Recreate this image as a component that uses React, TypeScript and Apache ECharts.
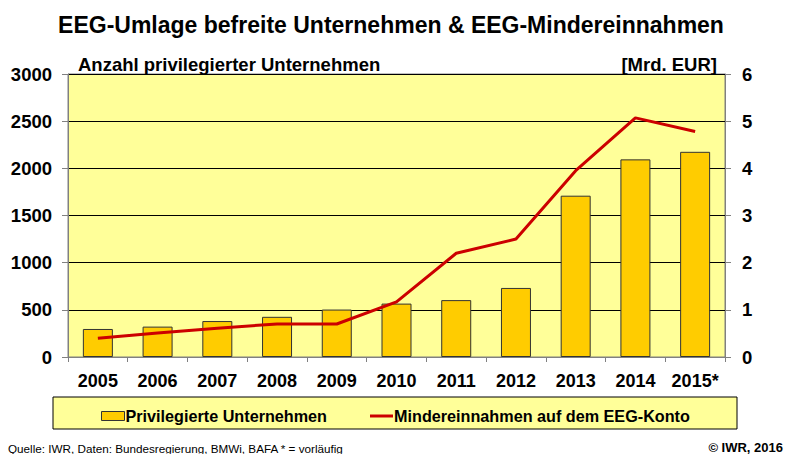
import React, { useEffect, useRef } from "react";
import * as echarts from "echarts";

const years = ["2005", "2006", "2007", "2008", "2009", "2010", "2011", "2012", "2013", "2014", "2015*"];
const companies = [297, 322, 381, 426, 503, 566, 603, 732, 1710, 2095, 2175];
const revenueLoss = [0.4, 0.51, 0.61, 0.7, 0.7, 1.17, 2.2, 2.5, 3.95, 5.07, 4.78];
const FONT = "Liberation Sans, Arial, sans-serif";

export default function App() {
  const ref = useRef<HTMLDivElement>(null);
  useEffect(() => {
    const chart = echarts.init(ref.current!, null, { renderer: "svg" });
    chart.setOption({
      animation: false,
      backgroundColor: "#ffffff",
      title: {
        text: "EEG-Umlage befreite Unternehmen & EEG-Mindereinnahmen",
        left: 386,
        textAlign: "center",
        top: 8,
        textStyle: { fontFamily: FONT, fontSize: 23, fontWeight: "bold", color: "#000" },
      },
      grid: {
        left: 68,
        right: 63,
        top: 74,
        bottom: 97,
        show: true,
        backgroundColor: "#FFFF99",
        borderColor: "#808080",
        borderWidth: 1,
      },
      legend: {
        left: 96,
        top: 403,
        itemGap: 43,
        itemWidth: 23,
        itemHeight: 9,
        textStyle: { fontFamily: FONT, fontSize: 16.2, fontWeight: "bold", color: "#000", padding: [0, 0, 0, -4] },
        data: [
          {
            name: "Privilegierte Unternehmen",
            icon: "rect",
            itemStyle: { color: "#FFCC00", borderColor: "#333", borderWidth: 1 },
          },
          {
            name: "Mindereinnahmen auf dem EEG-Konto",
            icon: "path://M0,0 L23,0 L23,3 L0,3 Z",
            itemStyle: { color: "#CC0000" },
          },
        ],
      },
      xAxis: {
        type: "category",
        data: years,
        axisLine: { lineStyle: { color: "#808080" } },
        axisTick: { show: true, length: 5, lineStyle: { color: "#808080" } },
        axisLabel: {
          interval: 0,
          hideOverlap: false,
          fontFamily: FONT,
          fontSize: 18,
          fontWeight: "bold",
          color: "#000",
          margin: 15,
        },
      },
      yAxis: [
        {
          type: "value",
          min: 0,
          max: 3000,
          interval: 500,
          axisLine: { show: true, lineStyle: { color: "#808080" } },
          axisTick: { show: true, length: 6, lineStyle: { color: "#808080" } },
          axisLabel: {
            fontFamily: FONT,
            fontSize: 18.5,
            fontWeight: "bold",
            color: "#000",
            margin: 16,
            formatter: (v: number) => String(v),
          },
          splitLine: { lineStyle: { color: "#000", width: 1 } },
        },
        {
          type: "value",
          min: 0,
          max: 6,
          interval: 1,
          axisLine: { show: true, lineStyle: { color: "#808080" } },
          axisTick: { show: true, length: 6, lineStyle: { color: "#808080" } },
          axisLabel: { fontFamily: FONT, fontSize: 18.5, fontWeight: "bold", color: "#000", margin: 17 },
          splitLine: { show: false },
        },
      ],
      graphic: [
        {
          type: "rect",
          shape: { x: 53, y: 397, width: 684, height: 32 },
          style: { fill: "#FFFF99", stroke: "#000", lineWidth: 1 },
          z: -1,
        },
        {
          type: "text",
          x: 78,
          y: 74,
          style: {
            text: "Anzahl privilegierter Unternehmen",
            font: `bold 18.5px ${FONT}`,
            fill: "#000",
            verticalAlign: "bottom",
          },
        },
        {
          type: "text",
          x: 717,
          y: 74,
          style: { text: "[Mrd. EUR]", font: `bold 18.5px ${FONT}`, fill: "#000", align: "right", verticalAlign: "bottom" },
        },
        {
          type: "text",
          x: 8,
          y: 448,
          style: {
            text: "Quelle: IWR, Daten: Bundesregierung, BMWi, BAFA * = vorläufig",
            font: `11.7px ${FONT}`,
            fill: "#000",
            verticalAlign: "middle",
          },
        },
        {
          type: "text",
          x: 783,
          y: 447,
          style: { text: "© IWR, 2016", font: `bold 13px ${FONT}`, fill: "#000", align: "right", verticalAlign: "middle" },
        },
      ],
      series: [
        {
          name: "Privilegierte Unternehmen",
          type: "bar",
          data: companies,
          barWidth: 30,
          itemStyle: { color: "#FFCC00", borderColor: "#333", borderWidth: 1 },
        },
        {
          name: "Mindereinnahmen auf dem EEG-Konto",
          type: "line",
          yAxisIndex: 1,
          data: revenueLoss,
          symbol: "none",
          lineStyle: { color: "#CC0000", width: 3 },
          itemStyle: { color: "#CC0000" },
        },
      ],
    });
    return () => chart.dispose();
  }, []);
  return <div ref={ref} style={{ width: 788, height: 454, position: "absolute", left: 0, top: 0 }} />;
}
